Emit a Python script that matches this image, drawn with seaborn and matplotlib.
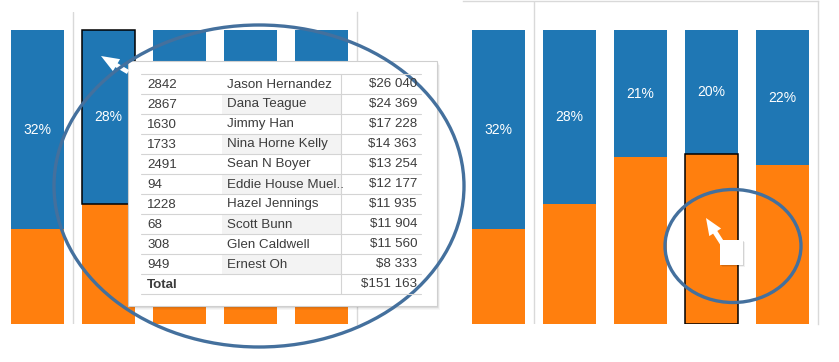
import numpy as np
import pandas as pd
import matplotlib.pyplot as plt
import seaborn as sns
from matplotlib.patches import Rectangle, Ellipse, FancyArrow

# Bar data: share of each bar (blue on top, orange at the bottom) and the label shown in blue
categories = ["A", "B", "C", "D", "E"]
blue_share = [67.6, 59.0, 43.0, 42.0, 46.0]
orange_share = [32.4, 41.0, 57.0, 58.0, 54.0]
bar_labels = ["32%", "28%", "21%", "20%", "22%"]

# Tooltip table
ids = ["2842", "2867", "1630", "1733", "2491", "94", "1228", "68", "308", "949"]
names = ["Jason Hernandez", "Dana Teague", "Jimmy Han", "Nina Horne Kelly", "Sean N Boyer",
         "Eddie House Muel..", "Hazel Jennings", "Scott Bunn", "Glen Caldwell", "Ernest Oh"]
amounts = ["$26 040", "$24 369", "$17 228", "$14 363", "$13 254",
           "$12 177", "$11 935", "$11 904", "$11 560", "$8 333"]
total_label = "Total"
total_amount = "$151 163"

BLUE = "#1f77b4"
ORANGE = "#ff7f0e"
GRID = "#d9d9d9"
RING = "#44709d"
TXT = "#3c3c3c"

sns.set_style("white")
plt.rcParams['font.family'] = ['Liberation Sans', 'DejaVu Sans']

W, H = 839, 362
fig = plt.figure(figsize=(W / 100, H / 100), dpi=100)


def px_axes(x0, y0, x1, y1):
    # axes placed in pixel coords (y from the top)
    return fig.add_axes([x0 / W, 1 - y1 / H, (x1 - x0) / W, (y1 - y0) / H])


def draw_panel(ax, ymax, top_line, shown_labels):
    df = pd.DataFrame({"cat": categories, "blue": blue_share, "orange": orange_share})
    df["total"] = df["blue"] + df["orange"]
    sns.barplot(df, x="cat", y="total", color=BLUE, saturation=1, width=0.75,
                linewidth=0, ax=ax)
    sns.barplot(df, x="cat", y="orange", color=ORANGE, saturation=1, width=0.75,
                linewidth=0, ax=ax)
    for i, row in df.iterrows():
        if i in shown_labels:
            ax.text(i, row["orange"] + row["blue"] / 2, bar_labels[i], color="white",
                    ha="center", va="center", fontsize=10)
    ax.set_xlim(-0.5, 4.5)
    ax.set_ylim(0, ymax)
    ax.set_xticks([])
    ax.set_yticks([])
    ax.set_xlabel("")
    ax.set_ylabel("")
    ax.axvline(0.5, color=GRID, lw=1, zorder=0)
    for s in ["left", "bottom"]:
        ax.spines[s].set_visible(False)
    ax.spines["top"].set_visible(top_line)
    for s in ["top", "right"]:
        ax.spines[s].set_color(GRID)
        ax.spines[s].set_linewidth(1)
    return df


# left panel (bars 3-5 labels sit under the tooltip)
ax1 = px_axes(2, 12, 357, 324)
df = draw_panel(ax1, 106.3, False, [0, 1])
p = ax1.containers[0][1]
ax1.add_patch(Rectangle((p.get_x(), df["orange"][1]), p.get_width(), df["blue"][1],
                        fill=False, ec="black", lw=1.1, zorder=3))

# right panel
ax2 = px_axes(463, 0.5, 818, 324)
draw_panel(ax2, 110.2, True, range(len(categories)))
hp = ax2.containers[1][3]
hp.set_edgecolor("black")
hp.set_linewidth(1.1)
hp.set_zorder(3)

# overlay in pixel coordinates for tooltip, rings and pointers
ov = fig.add_axes([0, 0, 1, 1], zorder=10)
ov.set_xlim(0, W)
ov.set_ylim(H, 0)
ov.axis("off")
ov.patch.set_alpha(0)

# tooltip box with soft shadow
bx0, by0, bx1, by1 = 128, 61, 437, 306
for k in range(1, 6):
    ov.add_patch(Rectangle((bx0 + k * 0.6, by0 + k * 0.8), bx1 - bx0, by1 - by0,
                           fc="black", ec="none", alpha=0.035))
ov.add_patch(Rectangle((bx0, by0), bx1 - bx0, by1 - by0, fc="white", ec="#cfcfcf", lw=0.8))

row_top, row_h = 74, 20
tx0, tx1, col_split = 141, 421, 341
n_rows = len(ids) + 1
fs = 9.6
for i in range(len(ids)):
    y = row_top + i * row_h
    if i % 2 == 1:
        ov.add_patch(Rectangle((222, y), col_split - 222, row_h, fc="#f3f3f3", ec="none"))
    yc = y + row_h / 2 + 0.5
    ov.text(147, yc, ids[i], ha="left", va="center", fontsize=fs, color=TXT)
    ov.text(227, yc, names[i], ha="left", va="center", fontsize=fs, color=TXT)
    ov.text(417, yc, amounts[i], ha="right", va="center", fontsize=fs, color=TXT)
yc = row_top + len(ids) * row_h + row_h / 2 + 0.5
ov.text(147, yc, total_label, ha="left", va="center", fontsize=fs, color=TXT, weight="bold")
ov.text(417, yc, total_amount, ha="right", va="center", fontsize=fs, color=TXT)
for i in range(n_rows + 1):
    y = row_top + i * row_h
    ov.plot([tx0, tx1], [y, y], color="#d4d4d4", lw=0.8)
ov.plot([col_split, col_split], [row_top, row_top + n_rows * row_h], color="#d4d4d4", lw=0.8)

# big ring and pointer on the left
ov.add_patch(FancyArrow(128, 72, -27, -16, width=4.5, head_width=14, head_length=18,
                        length_includes_head=True, fc="white", ec="none"))
ov.add_patch(Ellipse((259, 186), 410, 322, fill=False, ec=RING, lw=2.4))

# small ring and pointer on the right
ov.add_patch(FancyArrow(724, 246, -18, -28, width=5, head_width=14, head_length=17,
                        length_includes_head=True, fc="white", ec="none"))
for k in range(1, 4):
    ov.add_patch(Rectangle((720 + k * 0.7, 240 + k * 0.7), 23, 25, fc="black", ec="none", alpha=0.06))
ov.add_patch(Rectangle((720, 240), 23, 25, fc="white", ec="none"))
ov.add_patch(Ellipse((733, 246), 136, 113, fill=False, ec=RING, lw=2.4))

fig.savefig("out.png", dpi=100)
